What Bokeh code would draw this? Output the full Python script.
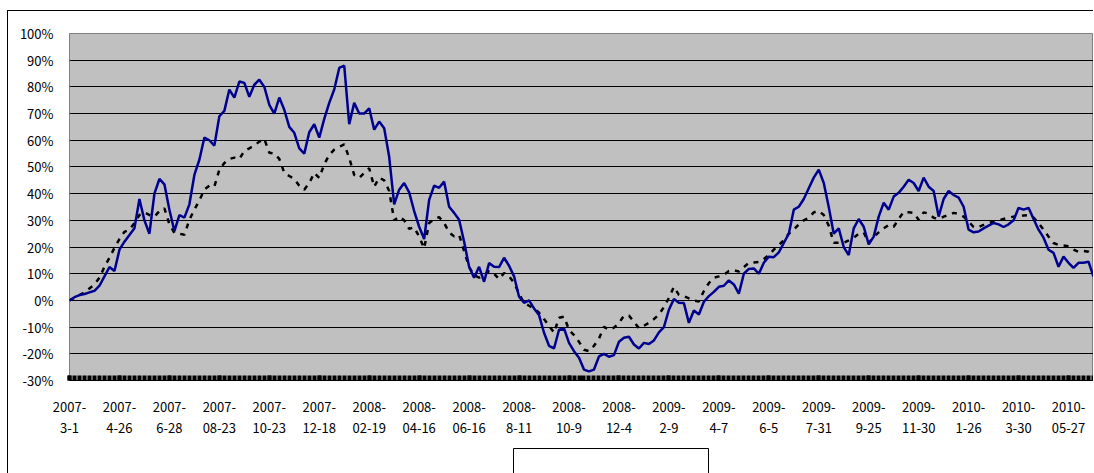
from bokeh.plotting import figure
from bokeh.layouts import column
from bokeh.models import Range1d, FixedTicker, Legend, LegendItem, ColumnDataSource, LinearAxis
from bokeh.embed import file_html
from bokeh.resources import INLINE

# x positions are sample indices along the trading-day axis
tick_index = [0, 10, 20, 30, 40, 50, 60, 70, 80, 90, 100, 110, 120, 130, 140, 150, 160, 170, 180, 190, 200]
tick_years = ["2007-", "2007-", "2007-", "2007-", "2007-", "2007-",
              "2008-", "2008-", "2008-", "2008-", "2008-", "2008-",
              "2009-", "2009-", "2009-", "2009-", "2009-", "2009-",
              "2010-", "2010-", "2010-"]
tick_dates = ["3-1", "4-26", "6-28", "08-23", "10-23", "12-18",
              "02-19", "04-16", "06-16", "8-11", "10-9", "12-4",
              "2-9", "4-7", "6-5", "7-31", "9-25", "11-30",
              "1-26", "3-30", "05-27"]

youhua = [0, 1.2, 2.0, 2.4, 3.0, 3.6, 5.5, 9.0, 12.5, 11.0, 19, 22, 24.5, 27, 38, 30, 25, 40, 45.5, 43.5,
          34, 26, 32, 31, 36, 47, 52.7, 61, 60, 58, 69, 71, 79, 76, 82, 81.5, 76.3, 80.8, 82.7, 80,
          73.3, 70, 76, 71.4, 65, 62.8, 57, 55, 63, 66, 61, 68, 74, 79, 87.1, 88, 66, 74, 70, 70,
          72, 64, 67, 64.5, 53.8, 36, 41.5, 44, 40.5, 33.5, 27.6, 23, 37.7, 43, 42.2, 44.5, 35.1, 32.8, 30.2, 22,
          12.6, 8.5, 12.6, 7, 14, 12.6, 12.5, 16, 13, 9, 1.4, -0.9, 0, -3, -5.5, -12.1, -17, -18, -11, -10.5,
          -15.9, -19, -21.5, -25.9, -26.6, -25.9, -21, -20, -21.1, -20.5, -15.5, -14, -13.6, -16.5, -18, -15.9, -16.3, -15, -12, -10,
          -3.5, 0.5, -0.9, -1, -8.4, -3.8, -5.3, -0.5, 1.6, 3.2, 5.1, 5.5, 7.5, 6, 2.5, 10, 11.8, 12, 10, 14.1,
          16.4, 16.2, 18, 21.5, 25, 34, 35.1, 38, 42, 46, 49, 44, 35, 25, 27, 20, 17, 27, 30.5, 27.6,
          21, 23.9, 31.4, 36.6, 34, 38.9, 40.3, 42.6, 45.2, 44, 41, 46, 42.6, 41, 31.4, 38, 41, 39.5, 38.5, 35.1,
          26.5, 25.5, 25.8, 27, 28, 29, 28.5, 27.5, 28.5, 30, 34.7, 34, 34.7, 30.5, 26.5, 23.5, 19, 17.8, 12.6, 16.4,
          14.1, 12.2, 14.1, 14.1, 14.5, 8.9]

jizhun = [0, 1, 2, 3, 4.5, 6, 8.5, 12.6, 16, 19.7, 23, 25.7, 26.5, 29, 32, 33, 32, 31.4, 33.5, 34.5,
          28.5, 25.3, 25, 24.6, 30.2, 34, 37.5, 41.5, 43, 42.6, 49, 51.5, 53, 53.5, 53, 56, 57, 58, 59.5, 60.5,
          55.3, 55, 53, 47.8, 46.6, 45.5, 43, 41.5, 44, 47.8, 45.9, 51, 54.5, 56.5, 57.5, 58.5, 53.4, 47, 45.9, 47.8,
          49.5, 42.6, 46, 45, 41, 30, 31.4, 30, 26.8, 27.4, 23.9, 19.5, 29, 30.5, 31.2, 29, 25.5, 24, 24.6, 18.5,
          12.5, 9.5, 8.5, 9.5, 11, 10, 8, 10.3, 9, 6.6, 2.5, -0.9, -2, -3, -4.6, -7, -9.5, -12.1, -6.5, -6.1,
          -11, -13, -15.5, -18.5, -19, -17, -14.3, -9.9, -11, -10.2, -8.5, -5.7, -5.7, -8, -10.4, -9.5, -8.4, -7, -5.3, -2.5,
          1, 5.1, 2.1, 1.6, 0.8, 0, -0.4, 3.5, 6.5, 8.5, 9, 9.6, 11, 11.3, 10.8, 12.5, 14.1, 14.2, 14.4, 15.5,
          17, 19, 20.8, 22.5, 25, 26.5, 28.5, 30, 31, 33, 33.5, 32, 28, 21.6, 21.6, 21.6, 22.5, 23.5, 25, 25.5,
          21.5, 23.9, 25.5, 27, 28.3, 27.6, 30.5, 33.2, 33, 32.8, 30.2, 33, 32.5, 31, 30.5, 31.4, 32, 32.8, 32.4, 31.4,
          29.5, 27.5, 27.5, 28.3, 29, 29.5, 30, 30.5, 31, 31.4, 31.5, 31.8, 32, 31, 29, 26.5, 23.9, 21.5, 20.8, 20.6,
          20.3, 19, 18.2, 18.5, 18.2, 17]

series_names = ["优化配置", "基金基准"]
y_ticks = [-30, -20, -10, 0, 10, 20, 30, 40, 50, 60, 70, 80, 90, 100]

FONT = "Noto Sans CJK SC"
BLUE = "#000090"

src = ColumnDataSource(dict(x=list(range(len(youhua))), a=youhua, b=jizhun))

p = figure(frame_width=1024, frame_height=347, x_range=Range1d(0, len(youhua) - 1), y_range=Range1d(-30, 100),
           output_backend="svg", toolbar_location=None,
           min_border_left=61, min_border_right=0, min_border_top=22, min_border_bottom=68,
           background_fill_color="#C0C0C0", border_fill_color="white")

p.outline_line_color = "#808080"
p.outline_line_width = 1

p.xgrid.visible = False
p.ygrid.ticker = FixedTicker(ticks=y_ticks)
p.ygrid.grid_line_color = "#000000"
p.ygrid.grid_line_width = 1

p.line("x", "b", source=src, line_color="#000000", line_width=2.5, line_dash="5 6")
p.line("x", "a", source=src, line_color=BLUE, line_width=2.5)

# y axis
ya = p.yaxis[0]
ya.ticker = FixedTicker(ticks=y_ticks)
ya.major_label_overrides = {v: f"{v}%" for v in y_ticks}
ya.axis_line_color = None
ya.major_tick_line_color = None
ya.minor_tick_line_color = None
ya.major_label_standoff = 10
ya.major_label_text_font = FONT
ya.major_label_text_font_size = "13px"
ya.major_label_text_color = "#000000"

# x axis (year line, with dense inward ticks)
xa = p.xaxis[0]
xa.ticker = FixedTicker(ticks=tick_index, minor_ticks=list(range(len(youhua))))
xa.major_label_overrides = {i: lab for i, lab in zip(tick_index, tick_years)}
xa.axis_line_color = "#000000"
xa.axis_line_width = 1
xa.major_tick_in = 5
xa.major_tick_out = 0
xa.major_tick_line_width = 4
xa.major_tick_line_color = "#000000"
xa.minor_tick_in = 5
xa.minor_tick_out = 0
xa.minor_tick_line_width = 4
xa.minor_tick_line_color = "#000000"
xa.major_label_standoff = 21
xa.major_label_text_font = FONT
xa.major_label_text_font_size = "13px"
xa.major_label_text_color = "#000000"

# second line of the date labels
xa2 = LinearAxis(ticker=FixedTicker(ticks=tick_index),
                 major_label_overrides={i: lab for i, lab in zip(tick_index, tick_dates)})
xa2.axis_line_color = None
xa2.major_tick_line_color = None
xa2.minor_tick_line_color = None
xa2.major_tick_in = 0
xa2.major_tick_out = 0
xa2.major_label_standoff = 8
xa2.major_label_text_font = FONT
xa2.major_label_text_font_size = "13px"
xa2.major_label_text_color = "#000000"
p.add_layout(xa2, "below")

# legend box under the chart
lf = figure(width=257, height=26, x_range=Range1d(0, 1), y_range=Range1d(0, 1),
            output_backend="svg", toolbar_location=None, min_border=0,
            x_axis_location=None, y_axis_location=None,
            background_fill_color="white", border_fill_color="white")
lf.grid.visible = False
lf.outline_line_color = "#000000"
lf.outline_line_width = 1
g1 = lf.line(x=[], y=[], line_color=BLUE, line_width=2.5)
g2 = lf.line(x=[], y=[], line_color="#000000", line_width=2.5, line_dash="5 6")
legend = Legend(items=[LegendItem(label=series_names[0], renderers=[g1]),
                       LegendItem(label=series_names[1], renderers=[g2])],
                orientation="horizontal", location=(6, 27))
legend.label_text_font = FONT
legend.label_text_font_size = "17px"
legend.label_text_color = "#000000"
legend.glyph_width = 45
legend.glyph_height = 20
legend.label_standoff = 1
legend.spacing = 14
legend.padding = 0
legend.margin = 0
legend.border_line_color = None
legend.background_fill_alpha = 0
lf.add_layout(legend, "center")
lf.margin = (0, 0, 0, 444)

layout = column(p, lf)
layout.margin = (10, 0, 0, 7)
layout.styles = {"border-left": "1px solid #000", "border-top": "1px solid #000"}

open("out.html", "w").write(file_html(layout, INLINE))
